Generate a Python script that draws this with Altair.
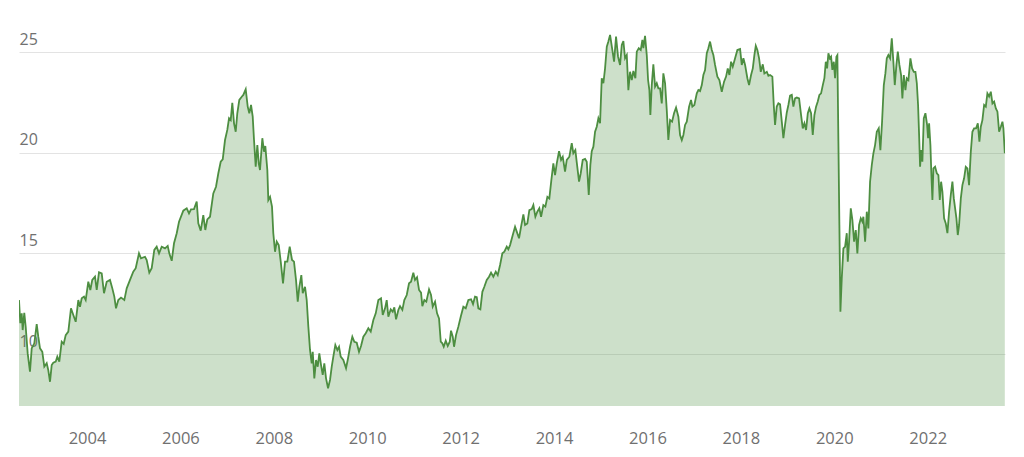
import altair as alt
import pandas as pd

# Decimal-year positions of the readings
years = [
    2002.544, 2002.572, 2002.602, 2002.623, 2002.657, 2002.687, 2002.730, 2002.779, 2002.816, 2002.872,
    2002.923, 2002.957, 2002.994, 2003.043, 2003.086, 2003.137, 2003.171, 2003.208, 2003.244, 2003.278,
    2003.330, 2003.364, 2003.407, 2003.458, 2003.501, 2003.544, 2003.600, 2003.657, 2003.707, 2003.758,
    2003.814, 2003.850, 2003.887, 2003.936, 2003.972, 2004.028, 2004.071, 2004.113, 2004.171, 2004.208,
    2004.257, 2004.315, 2004.364, 2004.422, 2004.492, 2004.542, 2004.585, 2004.621, 2004.670, 2004.728,
    2004.799, 2004.850, 2004.921, 2004.991, 2005.043, 2005.113, 2005.156, 2005.242, 2005.278, 2005.334,
    2005.385, 2005.441, 2005.492, 2005.542, 2005.600, 2005.670, 2005.728, 2005.762, 2005.814, 2005.863,
    2005.921, 2005.970, 2006.062, 2006.135, 2006.184, 2006.227, 2006.291, 2006.349, 2006.383, 2006.435,
    2006.490, 2006.533, 2006.576, 2006.634, 2006.704, 2006.762, 2006.812, 2006.863, 2006.906, 2006.955,
    2007.004, 2007.041, 2007.077, 2007.111, 2007.148, 2007.184, 2007.218, 2007.261, 2007.313, 2007.347,
    2007.398, 2007.441, 2007.475, 2007.512, 2007.548, 2007.576, 2007.612, 2007.647, 2007.677, 2007.704,
    2007.754, 2007.790, 2007.818, 2007.861, 2007.882, 2007.919, 2007.961, 2007.989, 2008.026, 2008.062,
    2008.105, 2008.148, 2008.197, 2008.240, 2008.289, 2008.340, 2008.390, 2008.432, 2008.475, 2008.512,
    2008.546, 2008.589, 2008.619, 2008.668, 2008.704, 2008.739, 2008.775, 2008.811, 2008.833, 2008.867,
    2008.904, 2008.940, 2008.974, 2009.011, 2009.047, 2009.081, 2009.118, 2009.161, 2009.203, 2009.240,
    2009.274, 2009.317, 2009.360, 2009.396, 2009.432, 2009.488, 2009.546, 2009.582, 2009.632, 2009.681,
    2009.724, 2009.775, 2009.824, 2009.867, 2009.917, 2009.968, 2010.024, 2010.075, 2010.131, 2010.182,
    2010.238, 2010.295, 2010.332, 2010.381, 2010.417, 2010.452, 2010.503, 2010.546, 2010.580, 2010.617,
    2010.666, 2010.702, 2010.752, 2010.794, 2010.846, 2010.895, 2010.938, 2010.987, 2011.023, 2011.066,
    2011.109, 2011.152, 2011.180, 2011.223, 2011.265, 2011.323, 2011.366, 2011.402, 2011.452, 2011.495,
    2011.537, 2011.574, 2011.608, 2011.638, 2011.681, 2011.724, 2011.767, 2011.794, 2011.831, 2011.859,
    2011.901, 2011.951, 2012.002, 2012.058, 2012.109, 2012.165, 2012.223, 2012.265, 2012.308, 2012.345,
    2012.379, 2012.422, 2012.465, 2012.507, 2012.559, 2012.608, 2012.651, 2012.700, 2012.752, 2012.794,
    2012.844, 2012.893, 2012.936, 2012.987, 2013.021, 2013.058, 2013.116, 2013.165, 2013.201, 2013.250,
    2013.293, 2013.343, 2013.379, 2013.428, 2013.471, 2013.522, 2013.557, 2013.600, 2013.642, 2013.685,
    2013.722, 2013.771, 2013.814, 2013.857, 2013.899, 2013.942, 2013.985, 2014.021, 2014.058, 2014.107,
    2014.150, 2014.186, 2014.235, 2014.272, 2014.328, 2014.379, 2014.413, 2014.456, 2014.486, 2014.535,
    2014.571, 2014.614, 2014.664, 2014.700, 2014.743, 2014.777, 2014.807, 2014.842, 2014.878, 2014.914,
    2014.949, 2014.985, 2015.021, 2015.056, 2015.092, 2015.129, 2015.163, 2015.199, 2015.242, 2015.285,
    2015.327, 2015.370, 2015.413, 2015.450, 2015.484, 2015.520, 2015.557, 2015.591, 2015.627, 2015.664,
    2015.698, 2015.741, 2015.771, 2015.814, 2015.856, 2015.891, 2015.912, 2015.948, 2015.985, 2016.013,
    2016.041, 2016.062, 2016.092, 2016.126, 2016.163, 2016.199, 2016.233, 2016.270, 2016.306, 2016.340,
    2016.377, 2016.413, 2016.447, 2016.484, 2016.527, 2016.569, 2016.612, 2016.662, 2016.698, 2016.735,
    2016.769, 2016.805, 2016.842, 2016.891, 2016.933, 2016.961, 2017.004, 2017.056, 2017.090, 2017.126,
    2017.163, 2017.197, 2017.233, 2017.270, 2017.304, 2017.340, 2017.377, 2017.411, 2017.447, 2017.497,
    2017.540, 2017.591, 2017.640, 2017.683, 2017.719, 2017.754, 2017.790, 2017.826, 2017.876, 2017.925,
    2017.983, 2018.019, 2018.054, 2018.090, 2018.139, 2018.175, 2018.218, 2018.255, 2018.289, 2018.319,
    2018.353, 2018.390, 2018.426, 2018.469, 2018.503, 2018.555, 2018.589, 2018.625, 2018.674, 2018.704,
    2018.732, 2018.768, 2018.803, 2018.839, 2018.876, 2018.910, 2018.946, 2018.983, 2019.017, 2019.053,
    2019.090, 2019.124, 2019.160, 2019.197, 2019.246, 2019.289, 2019.325, 2019.360, 2019.396, 2019.433,
    2019.467, 2019.503, 2019.539, 2019.574, 2019.610, 2019.646, 2019.681, 2019.717, 2019.754, 2019.788,
    2019.818, 2019.846, 2019.874, 2019.904, 2019.931, 2019.959, 2019.989, 2020.017, 2020.045, 2020.066,
    2020.088, 2020.109, 2020.131, 2020.160, 2020.195, 2020.231, 2020.267, 2020.289, 2020.317, 2020.353,
    2020.387, 2020.424, 2020.460, 2020.494, 2020.531, 2020.567, 2020.602, 2020.623, 2020.660, 2020.696,
    2020.730, 2020.766, 2020.803, 2020.837, 2020.873, 2020.910, 2020.952, 2020.987, 2021.023, 2021.060,
    2021.094, 2021.124, 2021.158, 2021.195, 2021.231, 2021.265, 2021.295, 2021.330, 2021.360, 2021.394,
    2021.430, 2021.458, 2021.488, 2021.523, 2021.552, 2021.587, 2021.630, 2021.666, 2021.702, 2021.737,
    2021.767, 2021.794, 2021.816, 2021.837, 2021.859, 2021.886, 2021.916, 2021.951, 2021.987, 2022.008,
    2022.030, 2022.058, 2022.079, 2022.101, 2022.122, 2022.158, 2022.195, 2022.229, 2022.259, 2022.287,
    2022.315, 2022.351, 2022.387, 2022.422, 2022.458, 2022.494, 2022.529, 2022.559, 2022.587, 2022.615,
    2022.644, 2022.672, 2022.709, 2022.743, 2022.779, 2022.815, 2022.850, 2022.886, 2022.923, 2022.957,
    2022.993, 2023.036, 2023.073, 2023.107, 2023.137, 2023.171, 2023.208, 2023.244, 2023.278, 2023.315,
    2023.351, 2023.386, 2023.422, 2023.459, 2023.493, 2023.529, 2023.566, 2023.600, 2023.621, 2023.651,
]

values = [
    12.68, 11.53, 12.02, 11.19, 12.05, 11.36, 10.03, 9.12, 10.28, 10.53,
    11.49, 10.86, 10.28, 10.11, 9.37, 9.54, 9.20, 8.62, 9.45, 9.57,
    9.62, 9.87, 9.62, 10.61, 10.50, 10.94, 11.11, 12.27, 11.94, 11.60,
    12.68, 12.35, 12.77, 12.85, 12.68, 13.59, 13.18, 13.68, 13.84, 13.18,
    14.06, 14.01, 13.02, 13.59, 13.68, 13.26, 12.85, 12.27, 12.68, 12.80,
    12.68, 13.26, 13.68, 14.09, 14.26, 15.00, 14.75, 14.83, 14.67, 14.04,
    14.26, 15.17, 15.33, 15.00, 15.33, 15.25, 15.37, 15.00, 14.63, 15.50,
    16.00, 16.57, 17.12, 17.24, 16.99, 17.19, 17.20, 17.57, 16.49, 16.13,
    16.90, 16.16, 16.69, 16.82, 17.98, 18.31, 18.98, 19.55, 19.67, 20.63,
    21.13, 21.71, 21.62, 22.48, 21.46, 21.04, 21.96, 22.62, 22.78, 22.87,
    23.15, 22.29, 21.96, 22.37, 21.79, 20.63, 19.30, 20.38, 19.47, 19.14,
    20.72, 20.05, 20.33, 19.14, 17.65, 17.81, 17.32, 16.00, 15.08, 15.58,
    15.41, 14.59, 13.51, 14.59, 14.59, 15.33, 14.67, 14.59, 13.68, 12.60,
    13.34, 13.92, 13.02, 13.34, 12.68, 11.36, 10.20, 9.54, 10.11, 8.79,
    9.70, 9.37, 10.03, 9.45, 8.96, 9.54, 8.79, 8.30, 8.71, 9.37,
    9.87, 10.45, 10.20, 10.36, 9.87, 9.70, 9.29, 9.70, 10.36, 10.86,
    10.61, 10.56, 10.11, 10.40, 10.86, 11.03, 11.28, 11.11, 11.69, 12.02,
    12.68, 12.77, 11.94, 12.27, 12.68, 11.85, 12.22, 12.10, 12.32, 11.72,
    12.19, 12.38, 12.19, 12.68, 12.93, 13.51, 13.59, 14.04, 13.68, 13.81,
    13.18, 13.05, 12.38, 12.68, 12.60, 13.21, 12.93, 12.35, 12.60, 12.02,
    11.77, 10.61, 10.53, 10.36, 10.66, 10.40, 10.61, 11.16, 10.86, 10.36,
    10.94, 11.36, 11.85, 12.35, 12.27, 12.68, 12.72, 12.48, 12.85, 12.82,
    12.27, 12.22, 13.09, 13.34, 13.68, 13.84, 14.04, 13.84, 14.09, 13.92,
    14.42, 15.00, 15.08, 15.33, 15.20, 15.41, 15.91, 16.32, 16.08, 15.75,
    16.32, 16.94, 16.41, 16.49, 17.15, 17.20, 17.40, 16.82, 17.07, 17.24,
    16.82, 17.40, 17.32, 17.81, 17.73, 18.64, 19.47, 18.89, 19.47, 20.08,
    19.64, 19.80, 19.06, 19.64, 19.80, 20.47, 19.97, 20.13, 19.52, 18.56,
    18.98, 19.64, 19.69, 19.55, 17.90, 19.39, 20.08, 20.30, 21.04, 21.29,
    21.71, 21.46, 23.70, 23.45, 24.19, 25.27, 25.52, 25.85, 25.19, 24.52,
    25.77, 24.77, 24.36, 25.35, 25.55, 24.69, 24.85, 23.11, 24.02, 23.61,
    24.06, 23.70, 25.02, 25.19, 25.10, 25.60, 25.19, 25.81, 24.85, 23.61,
    23.11, 21.87, 23.36, 24.39, 23.28, 23.45, 23.20, 23.20, 22.45, 23.94,
    23.45, 22.12, 20.63, 21.62, 21.54, 21.96, 22.24, 21.79, 20.88, 20.63,
    20.88, 21.38, 21.54, 22.29, 22.62, 22.29, 22.37, 22.95, 23.11, 23.06,
    23.36, 23.86, 24.11, 24.94, 25.19, 25.52, 25.10, 24.85, 24.36, 23.78,
    23.61, 23.03, 23.53, 23.78, 24.19, 23.86, 24.52, 24.27, 24.69, 25.10,
    25.15, 24.36, 24.69, 24.36, 23.70, 23.36, 23.86, 24.19, 24.85, 25.31,
    25.10, 24.69, 24.02, 24.39, 23.94, 24.02, 23.82, 23.86, 23.78, 22.37,
    21.38, 22.29, 22.45, 22.40, 21.54, 20.72, 21.38, 22.00, 22.37, 22.83,
    22.87, 22.29, 22.70, 22.74, 22.70, 21.87, 21.21, 21.46, 21.13, 21.96,
    22.20, 21.96, 20.88, 21.87, 22.29, 22.54, 22.87, 22.95, 23.36, 23.70,
    24.52, 24.19, 24.94, 24.69, 24.77, 24.11, 24.52, 23.70, 24.77, 24.85,
    20.55, 16.41, 12.10, 13.76, 15.25, 15.33, 16.00, 14.59, 15.58, 17.24,
    16.66, 15.58, 16.16, 15.00, 16.41, 16.74, 16.57, 16.82, 15.58, 17.07,
    16.24, 18.56, 19.39, 19.97, 20.38, 21.04, 21.21, 20.13, 21.54, 23.36,
    23.94, 24.69, 24.85, 24.69, 25.68, 24.52, 23.36, 24.36, 25.02, 24.36,
    23.86, 22.70, 23.86, 23.11, 23.70, 23.61, 24.69, 24.19, 24.02, 24.02,
    23.45, 22.37, 20.88, 19.30, 20.13, 19.55, 21.71, 21.96, 21.38, 20.72,
    21.46, 20.38, 18.89, 17.65, 19.22, 19.30, 18.98, 18.89, 17.65, 18.56,
    18.06, 16.74, 16.49, 16.00, 17.07, 17.90, 18.56, 17.73, 17.24, 16.74,
    15.91, 16.41, 17.73, 18.39, 18.73, 19.30, 19.22, 18.39, 20.05, 21.04,
    21.21, 21.21, 21.46, 20.55, 21.29, 21.62, 22.37, 22.29, 22.95, 22.79,
    23.03, 22.45, 22.54, 22.20, 22.04, 21.04, 21.29, 21.54, 21.21, 19.97,
]

x_ticks = [2004, 2006, 2008, 2010, 2012, 2014, 2016, 2018, 2020, 2022]
y_ticks = [10, 15, 20, 25]

df = pd.DataFrame({"year": years, "value": values})

GREEN = "#4d8e41"

x_enc = alt.X(
    "year:Q",
    scale=alt.Scale(domain=[2002.544, 2023.655], nice=False, zero=False),
    axis=alt.Axis(
        values=x_ticks, format="d", title=None, grid=False, ticks=False, domain=False,
        labelFont="Open Sans", labelFontSize=16.5, labelColor="#707070",
        labelPadding=24, labelFlush=False, labelOverlap=False,
    ),
)
y_enc = alt.Y(
    "value:Q",
    scale=alt.Scale(domain=[7.417, 27.586], nice=False, zero=False),
    axis=alt.Axis(
        values=y_ticks, title=None, grid=True, gridColor="#e3e3e3", gridWidth=1.2,
        ticks=False, domain=False, tickSize=0,
        labelFont="Open Sans", labelFontSize=16, labelColor="#707070",
        labelAlign="left", labelBaseline="alphabetic", labelPadding=0,
        labelOffset=-8, labelFlush=False, labelOverlap=False,
    ),
)

area = alt.Chart(df).mark_area(color=GREEN, opacity=0.28, clip=True).encode(x=x_enc, y=y_enc)
line = alt.Chart(df).mark_line(color=GREEN, strokeWidth=1.8, clip=True).encode(x=x_enc, y=y_enc)

chart = (
    alt.layer(area, line)
    .properties(
        width=986,
        height=406,
        autosize=alt.AutoSizeParams(type="none"),
        padding={"left": 19, "right": 19, "top": 0, "bottom": 51},
        background="white",
    )
    .configure_view(stroke=None)
)

chart.save("out.html", embed_options={"renderer": "svg", "actions": False})
